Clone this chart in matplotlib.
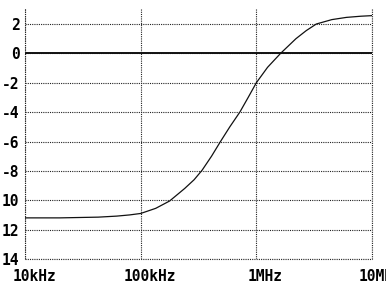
import numpy as np
import matplotlib
matplotlib.use('Agg')
import matplotlib.pyplot as plt
from matplotlib.transforms import ScaledTranslation

# frequency response
freq = [1e4, 2e4, 4.3e4, 6.2e4, 8e4, 1e5, 1.35e5, 1.78e5, 2.4e5, 2.9e5, 3.4e5,
        4.1e5, 4.9e5, 5.9e5, 7.2e5, 8.5e5, 1e6, 1.25e6, 1.62e6, 2.2e6,
        2.7e6, 3.3e6, 4.5e6, 6e6, 8e6, 1e7]
gain = [-11.2, -11.2, -11.15, -11.08, -11.0, -10.9, -10.55, -10.05, -9.2, -8.6, -7.95,
        -7.0, -6.0, -5.0, -4.0, -3.0, -2.0, -0.95, 0.0, 1.0,
        1.55, 2.0, 2.3, 2.45, 2.53, 2.57]

y_ticks = [2, 0, -2, -4, -6, -8, -10, -12, -14]
y_labels = ['2', '0', '-2', '-4', '-6', '-8', '10', '12', '14']
x_ticks = [1e4, 1e5, 1e6, 1e7]
x_labels = ['10kHz', '100kHz', '1MHz', '10MHz']

fig = plt.figure(figsize=(3.86, 2.86), dpi=100)
ax = fig.add_axes([25 / 386, 27 / 286, 347 / 386, 251 / 286])

dot = (0, (1, 1))
ax.semilogx(freq, gain, color='#111111', lw=0.9)
ax.axhline(0, color='#111111', lw=1.4)

ax.set_xlim(1e4, 1e7)
ax.set_ylim(-14, 3.09)

ax.set_yticks(y_ticks)
ax.set_yticklabels(y_labels)
ax.set_xticks(x_ticks)
ax.set_xticklabels(x_labels)
ax.minorticks_off()

ax.grid(True, color='#222222', lw=0.8, linestyle=dot)
for s in ['left', 'right', 'bottom']:
    ax.spines[s].set_linestyle(dot)
    ax.spines[s].set_linewidth(0.8)
    ax.spines[s].set_color('#222222')
    ax.spines[s].set_capstyle('butt')
ax.spines['top'].set_visible(False)

ax.tick_params(length=0, labelsize=10.5)
ax.tick_params(axis='y', pad=4)
ax.tick_params(axis='x', pad=7)
for lab in ax.get_xticklabels() + ax.get_yticklabels():
    lab.set_family('DejaVu Sans Mono')
    lab.set_fontweight('bold')
for lab in ax.get_xticklabels():
    lab.set_transform(lab.get_transform() + ScaledTranslation(9 / 100, 0, fig.dpi_scale_trans))

fig.savefig('out.png', dpi=100)
